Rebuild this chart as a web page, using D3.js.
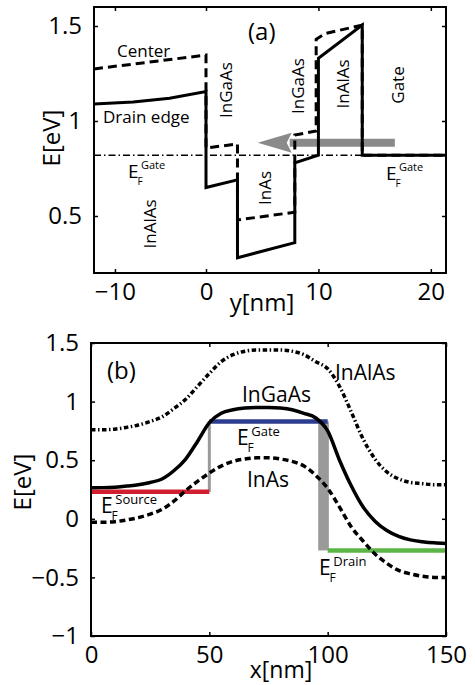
<!DOCTYPE html>
<html>
<head>
<meta charset="utf-8">
<script src="https://cdn.jsdelivr.net/npm/d3@7"></script>
<style>
  body { margin: 0; background: #fff; }
  text { font-family: "Open Sans", "DejaVu Sans", sans-serif; fill: #000; }
</style>
</head>
<body>
<svg id="chart" width="475" height="685"></svg>
<script>
// ---- panel (a) data: band edge vs depth y[nm] ----
var yPosDrain = [-12.3, -8, -4, 0, 0, 2.8, 2.8, 7.9, 7.9, 10, 10, 13.9, 13.9, 21.4];
var drainEdgeE = [1.09, 1.10, 1.12, 1.155, 0.65, 0.69, 0.28, 0.36, 0.78, 0.82, 1.33, 1.505, 0.82, 0.82];
var yPosCenter = [-12.3, 0, 0, 2.8, 2.8, 7.9, 7.9, 9.8, 9.8, 10.6, 13.9, 13.9, 21.4];
var centerE = [1.274, 1.347, 0.858, 0.879, 0.479, 0.52, 0.926, 0.947, 1.43, 1.46, 1.505, 0.82, 0.82];
var efGateA = 0.82;
var arrowY = [16.8, 4.6];
var arrowE = 0.885;
var xTicksA = [-10, 0, 10, 20];
var yTicksA = [0.5, 1, 1.5];

// ---- panel (b) data: band edge vs x[nm] ----
var xPosB = d3.range(0, 151, 5);
var inAlAsE = [0.76, 0.76, 0.765, 0.78, 0.80, 0.83, 0.87, 0.94, 1.02, 1.13, 1.24, 1.34, 1.40, 1.43, 1.44, 1.44,
               1.44, 1.43, 1.40, 1.34, 1.28, 1.13, 0.91, 0.68, 0.51, 0.40, 0.34, 0.31, 0.30, 0.29, 0.29];
var inGaAsE = [0.265, 0.266, 0.27, 0.28, 0.29, 0.31, 0.34, 0.41, 0.51, 0.66, 0.82, 0.90, 0.93, 0.945, 0.95, 0.95,
               0.945, 0.93, 0.90, 0.86, 0.75, 0.50, 0.28, 0.10, -0.02, -0.10, -0.15, -0.18, -0.195, -0.205, -0.21];
var inAsE = [-0.03, -0.03, -0.025, -0.01, 0.01, 0.04, 0.08, 0.15, 0.24, 0.32, 0.39, 0.45, 0.49, 0.51, 0.52, 0.52,
             0.51, 0.49, 0.45, 0.37, 0.26, 0.10, -0.07, -0.19, -0.30, -0.38, -0.44, -0.47, -0.49, -0.50, -0.50];
var efSource = {x: [0, 50], e: 0.23};
var efGate = {x: [50, 100], e: 0.83};
var efDrain = {x: [100, 150], e: -0.27};
var drainDrop = {x: [96, 100.5]};
var xTicksB = [0, 50, 100, 150];
var yTicksB = [-1, -0.5, 0, 0.5, 1, 1.5];

var svg = d3.select("#chart");
var fmt = d3.format("");

// frame + mirrored inward ticks, MATLAB style
function drawAxes(g, x, y, xt, yt, fs){
	var r = x.range(), d = y.range();
	var x0 = r[0], x1 = r[r.length-1], yb = d[0], yt0 = d[1];
	var bot = g.append("g").attr("transform", "translate(0," + yb + ")")
		.call(d3.axisBottom(x).tickValues(xt).tickFormat(fmt).tickSizeInner(-4).tickSizeOuter(0).tickPadding(10));
	var top = g.append("g").attr("transform", "translate(0," + yt0 + ")")
		.call(d3.axisTop(x).tickValues(xt).tickSizeInner(-4).tickSizeOuter(0).tickFormat(""));
	var left = g.append("g").attr("transform", "translate(" + x0 + ",0)")
		.call(d3.axisLeft(y).tickValues(yt).tickFormat(fmt).tickSizeInner(-4).tickSizeOuter(0).tickPadding(12));
	var right = g.append("g").attr("transform", "translate(" + x1 + ",0)")
		.call(d3.axisRight(y).tickValues(yt).tickSizeInner(-4).tickSizeOuter(0).tickFormat(""));
	[bot, top, left, right].forEach(function(a){
		a.select(".domain").remove();
		a.selectAll("line").attr("stroke", "#000").attr("stroke-width", 1.5);
		a.selectAll("text").attr("font-size", fs).attr("font-family", "Open Sans").attr("fill", "#000");
	});
	g.append("rect").attr("x", x0).attr("y", yt0).attr("width", x1 - x0).attr("height", yb - yt0)
		.attr("fill", "none").attr("stroke", "#000").attr("stroke-width", 2);
}

function efLabel(g, x, y, sup, big, small){
	g.append("text").attr("x", x).attr("y", y).attr("font-size", big).text("E");
	g.append("text").attr("x", x + big*0.5).attr("y", y + big*0.35).attr("font-size", small - 1).text("F");
	g.append("text").attr("x", x + big*0.68).attr("y", y - big*0.45).attr("font-size", small).text(sup);
}

// ===================== panel (a) =====================
var xa = d3.scaleLinear().domain([-12.3, 0, 21.35]).range([94, 206, 446]);
var ya = d3.scaleLinear().domain([0.2, 1.6]).range([273, 7]);
var ga = svg.append("g");
var lineA = d3.line().x(function(d){ return xa(d[0]); }).y(function(d){ return ya(d[1]); });

// gate Fermi level (dash-dot)
ga.append("path").datum([[xa.domain()[0], efGateA], [xa.domain()[2], efGateA]])
	.attr("d", lineA).attr("fill", "none").attr("stroke", "#000").attr("stroke-width", 1.4)
	.attr("stroke-dasharray", "7,3,1.5,3");

// gray arrow (drain -> source direction)
var headLen = 34, headHalf = 10;
ga.append("line").attr("x1", xa(arrowY[0])).attr("x2", xa(arrowY[1]) + headLen - 2)
	.attr("y1", ya(arrowE)).attr("y2", ya(arrowE))
	.attr("stroke", "#8a8a8a").attr("stroke-width", 8);
ga.append("path")
	.attr("d", d3.line()([[xa(arrowY[1]), ya(arrowE)], [xa(arrowY[1]) + headLen, ya(arrowE) - headHalf],
		[xa(arrowY[1]) + headLen - 5, ya(arrowE)], [xa(arrowY[1]) + headLen, ya(arrowE) + headHalf]]) + "Z")
	.attr("fill", "#8a8a8a");

ga.append("path").datum(yPosCenter.map(function(v, i){ return [v, centerE[i]]; }))
	.attr("d", lineA).attr("fill", "none").attr("stroke", "#000").attr("stroke-width", 3)
	.attr("stroke-dasharray", "9,5").attr("stroke-linejoin", "miter");
ga.append("path").datum(yPosDrain.map(function(v, i){ return [v, drainEdgeE[i]]; }))
	.attr("d", lineA).attr("fill", "none").attr("stroke", "#000").attr("stroke-width", 3)
	.attr("stroke-linejoin", "miter");

drawAxes(ga, xa, ya, xTicksA, yTicksA, 24);

ga.append("text").attr("x", 248).attr("y", 40).attr("font-size", 24).text("(a)");
ga.append("text").attr("x", 117).attr("y", 57).attr("font-size", 17).text("Center");
ga.append("text").attr("x", 103).attr("y", 123).attr("font-size", 17).text("Drain edge");
efLabel(ga, 128, 178, "Gate", 19, 11);
efLabel(ga, 386, 180, "Gate", 19, 11);
var rotA = [["InAlAs", 150, 224], ["InGaAs", 226, 90], ["InAs", 265, 188], ["InGaAs", 298, 86], ["InAlAs", 343, 84], ["Gate", 398, 85]];
rotA.forEach(function(r){
	ga.append("text").attr("transform", "translate(" + r[1] + "," + r[2] + ") rotate(-90)")
		.attr("text-anchor", "middle").attr("dy", "0.35em").attr("font-size", 17).text(r[0]);
});
ga.append("text").attr("transform", "translate(52,138) rotate(-90)").attr("text-anchor", "middle")
	.attr("dy", "0.35em").attr("font-size", 24).text("E[eV]");
ga.append("text").attr("x", 262).attr("y", 311).attr("text-anchor", "middle").attr("font-size", 24).text("y[nm]");

// ===================== panel (b) =====================
var xb = d3.scaleLinear().domain([0, 150]).range([91, 446]);
var yb = d3.scaleLinear().domain([-1, 1.5]).range([636, 343]);
var gb = svg.append("g");
var lineB = d3.line().x(function(d){ return xb(d[0]); }).y(function(d){ return yb(d[1]); }).curve(d3.curveMonotoneX);

// gray Fermi drops
gb.append("line").attr("x1", xb(50)).attr("x2", xb(50)).attr("y1", yb(efSource.e)).attr("y2", yb(efGate.e))
	.attr("stroke", "#9a9a9a").attr("stroke-width", 3);
gb.append("rect").attr("x", xb(drainDrop.x[0])).attr("width", xb(drainDrop.x[1]) - xb(drainDrop.x[0]))
	.attr("y", yb(efGate.e)).attr("height", yb(efDrain.e) - yb(efGate.e)).attr("fill", "#9a9a9a");

[[efSource, "#d21f2f"], [efGate, "#2c3d8f"], [efDrain, "#5db548"]].forEach(function(f){
	gb.append("line").attr("x1", xb(f[0].x[0])).attr("x2", xb(f[0].x[1]))
		.attr("y1", yb(f[0].e)).attr("y2", yb(f[0].e)).attr("stroke", f[1]).attr("stroke-width", 4.5);
});

gb.append("path").datum(xPosB.map(function(v, i){ return [v, inAlAsE[i]]; }))
	.attr("d", lineB).attr("fill", "none").attr("stroke", "#000").attr("stroke-width", 3.5)
	.attr("stroke-dasharray", "4.5,2.5,1.5,2.5");
gb.append("path").datum(xPosB.map(function(v, i){ return [v, inAsE[i]]; }))
	.attr("d", lineB).attr("fill", "none").attr("stroke", "#000").attr("stroke-width", 3.5)
	.attr("stroke-dasharray", "6,3.5");
gb.append("path").datum(xPosB.map(function(v, i){ return [v, inGaAsE[i]]; }))
	.attr("d", lineB).attr("fill", "none").attr("stroke", "#000").attr("stroke-width", 3.5);

drawAxes(gb, xb, yb, xTicksB, yTicksB, 24);

gb.append("text").attr("x", 107).attr("y", 379).attr("font-size", 24).text("(b)");
gb.append("text").attr("x", 335).attr("y", 380).attr("font-size", 21).text("InAlAs");
gb.append("text").attr("x", 242).attr("y", 402).attr("font-size", 21).text("InGaAs");
gb.append("text").attr("x", 247).attr("y", 487).attr("font-size", 21).text("InAs");
efLabel(gb, 101, 513, "Source", 21, 13);
efLabel(gb, 237, 445, "Gate", 21, 13);
efLabel(gb, 319, 575, "Drain", 21, 13);
gb.append("text").attr("transform", "translate(23,482) rotate(-90)").attr("text-anchor", "middle")
	.attr("dy", "0.35em").attr("font-size", 24).text("E[eV]");
gb.append("text").attr("x", 281).attr("y", 678).attr("text-anchor", "middle").attr("font-size", 23).text("x[nm]");
</script>
</body>
</html>
